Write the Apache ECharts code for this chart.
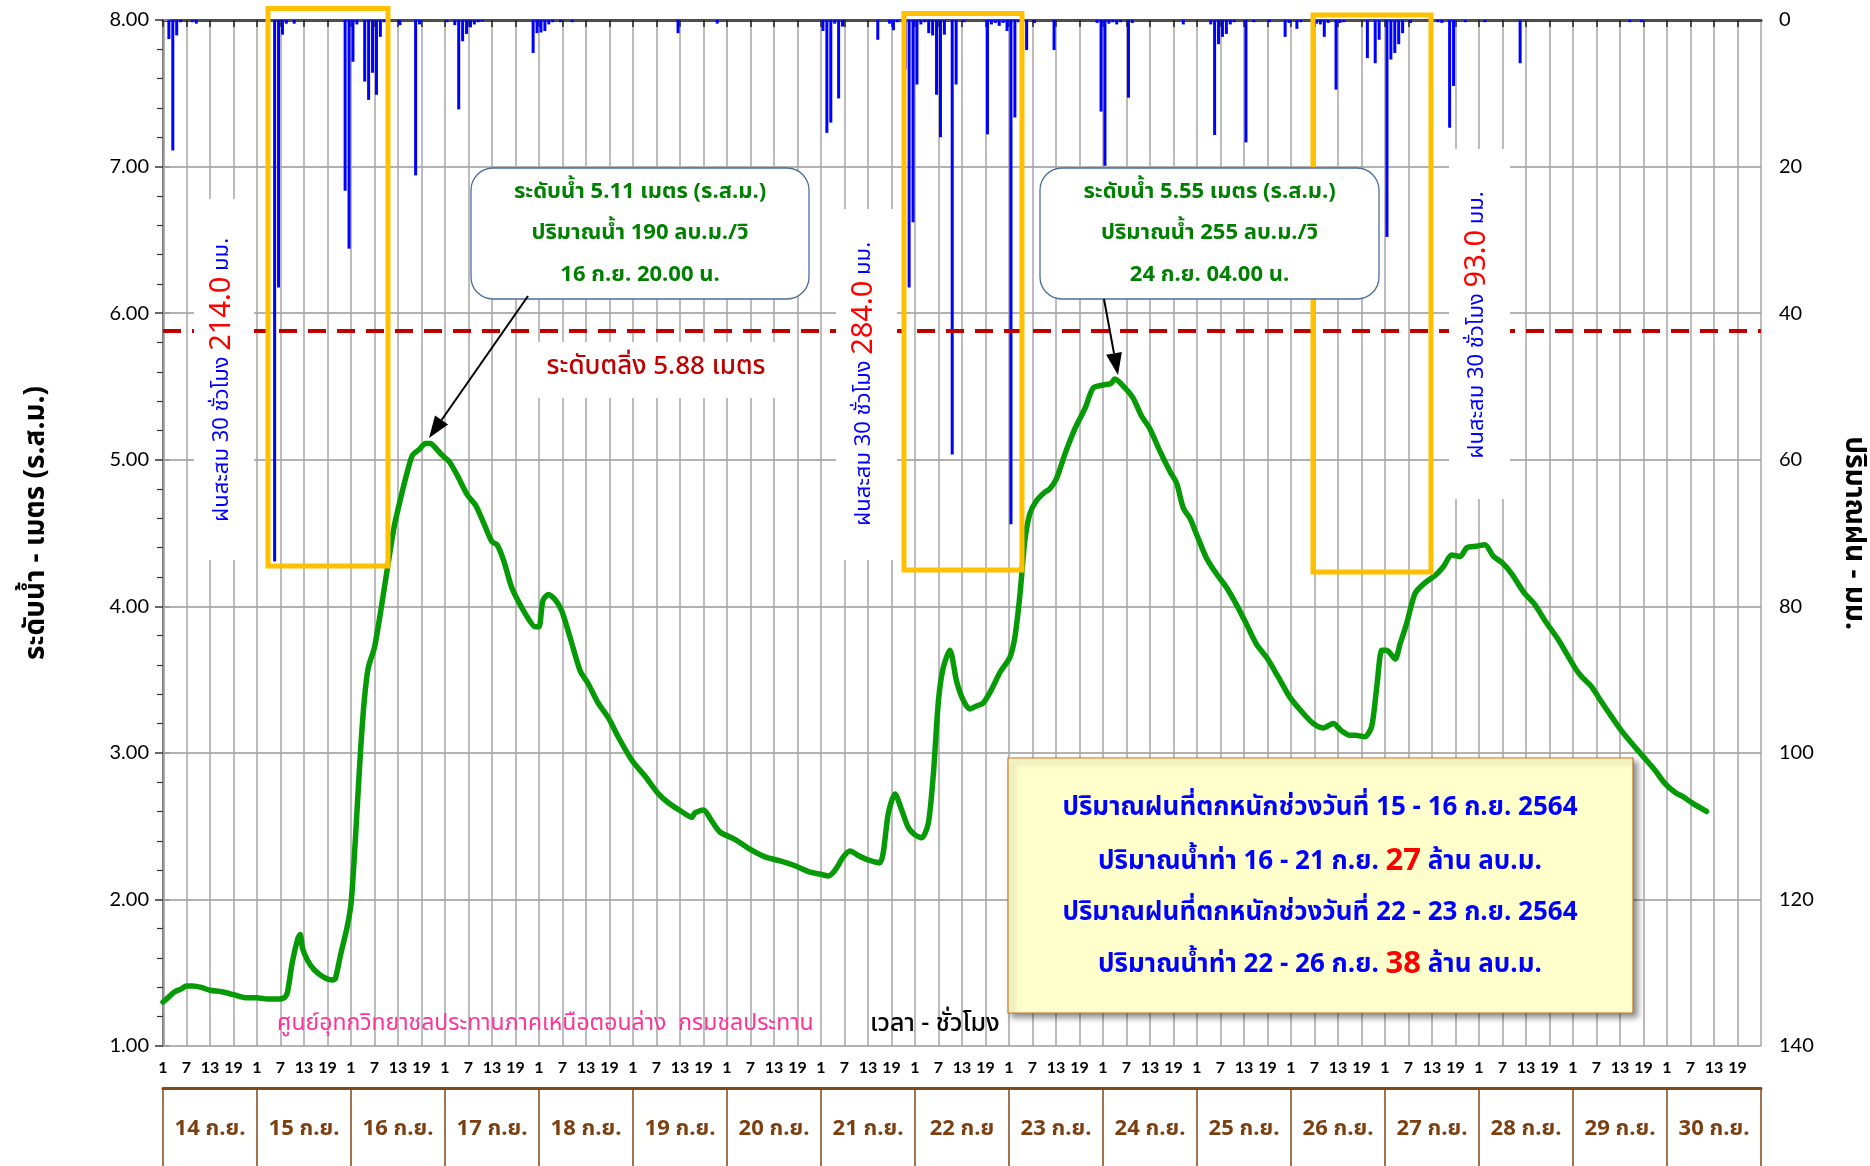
<!DOCTYPE html>
<html><head><meta charset="utf-8">
<script src="https://cdn.jsdelivr.net/npm/echarts/dist/echarts.min.js"></script>
<style>html,body{margin:0;padding:0;background:#fff}#c{width:1870px;height:1166px}</style>
</head><body><div id="c"></div>
<script>
// ---- data ----
const dayLabels = ['14 ก.ย.','15 ก.ย.','16 ก.ย.','17 ก.ย.','18 ก.ย.','19 ก.ย.','20 ก.ย.','21 ก.ย.','22 ก.ย','23 ก.ย.','24 ก.ย.','25 ก.ย.','26 ก.ย.','27 ก.ย.','28 ก.ย.','29 ก.ย.','30 ก.ย.'];
const hourTickLabels = ['1','7','13','19'];
const levelTicks = [1,2,3,4,5,6,7,8];
const rainTicks = [0,20,40,60,80,100,120,140];
const bankLevel = 5.88;

// water level (m, ร.ส.ม.) at hour index from 14 ก.ย. 01:00
const levelHours = [0,1.3,3,4.7,6,7.6,9.8,12,15,18,21,24,26.7,29,31,31.8,33,34.4,35,35.7,37,38.6,41,43.3,44,45.4,47,48,48.8,49.7,50.5,51.4,52.4,54,55.6,57.3,59,60.7,62.4,63.7,65.4,67,68.3,69.6,71.3,73,75,77.7,79.8,82,84,85.3,87,89,91.2,93.4,95,96,97,98.4,100,101.8,103.9,106.5,108.6,111.1,113.7,116.2,119.7,123.1,126.5,129,132.4,135,135.8,138,140,142.2,146,149.4,153.7,158,161.4,164.8,168.2,169.9,171.6,173.7,175.4,177.5,180,183,183.9,185.2,186.9,188.6,190.3,192,193.7,195.4,196.7,198,199.2,200.9,202.6,204.3,206,207.7,209.4,211.5,213.7,216.2,217.5,218.8,220,221.3,223,225.2,226.4,228.1,230.3,232.8,235.4,237.5,240,242,243,245.6,247.7,249.8,252,254.5,257.1,258.8,260.5,262.2,263.9,266.4,269,271.5,274.1,276.6,279.2,281.8,284.7,287.7,291.1,293.7,296.2,298.8,300.9,303,304.4,306.9,308.6,309.9,311.2,312.4,314.6,315.8,317.5,319.7,322.2,324.8,326.9,329,331.2,332.9,335.4,337.5,339.7,341.8,344.4,347.3,350.3,352.9,356.3,360.5,362.2,364.8,366.5,369,372.4,375.8,378.4,381,383.5,386.1,388.2,390.3,394.1];
const levelValues = [1.30,1.33,1.37,1.39,1.41,1.41,1.40,1.38,1.37,1.35,1.33,1.33,1.32,1.32,1.33,1.37,1.57,1.73,1.76,1.66,1.58,1.52,1.47,1.45,1.46,1.63,1.81,1.97,2.27,2.68,3.04,3.36,3.58,3.72,3.97,4.26,4.54,4.74,4.92,5.03,5.07,5.11,5.11,5.08,5.03,4.99,4.90,4.76,4.69,4.56,4.44,4.42,4.31,4.13,4.01,3.91,3.86,3.86,4.04,4.08,4.05,3.97,3.79,3.56,3.47,3.34,3.24,3.11,2.95,2.84,2.72,2.66,2.60,2.56,2.59,2.61,2.54,2.46,2.41,2.35,2.29,2.26,2.23,2.19,2.17,2.16,2.20,2.29,2.33,2.30,2.27,2.25,2.32,2.59,2.72,2.61,2.49,2.44,2.42,2.52,2.86,3.36,3.58,3.70,3.49,3.36,3.30,3.32,3.34,3.43,3.55,3.65,3.79,4.08,4.44,4.63,4.72,4.78,4.80,4.87,5.04,5.21,5.35,5.49,5.51,5.52,5.55,5.49,5.42,5.30,5.21,5.06,4.92,4.84,4.67,4.60,4.49,4.33,4.22,4.13,4.01,3.88,3.74,3.65,3.52,3.38,3.27,3.20,3.17,3.20,3.15,3.12,3.12,3.11,3.18,3.45,3.70,3.70,3.64,3.74,3.88,4.09,4.16,4.21,4.27,4.35,4.34,4.40,4.41,4.42,4.34,4.30,4.22,4.10,4.01,3.90,3.77,3.58,3.52,3.45,3.38,3.28,3.15,3.04,2.96,2.88,2.79,2.73,2.70,2.66,2.60];

// hourly rainfall (mm) at hour index
const rainHours = [1.5,2.5,3.5,4.5,7.5,8.5,28.5,29.5,30.5,31.5,33.5,46.5,47.5,48.5,49.5,51.5,52.5,53.5,54.5,55.5,56.5,60.5,64.5,65.5,72.5,74.5,75.5,76.5,77.5,78.5,79.5,80.5,81.5,94.5,95.5,96.5,97.5,98.5,99.5,101.5,104.5,131.5,141.5,168.5,169.5,170.5,171.5,172.5,173.5,182.5,185.5,186.5,187.5,189.5,190.5,191.5,192.5,193.5,194.5,195.5,196.5,197.5,198.5,199.5,201.5,202.5,204.5,210.5,211.5,212.5,213.5,214.5,215.5,216.5,217.5,218.5,220.5,222.5,227.5,238.5,239.5,240.5,241.5,242.5,243.5,244.5,246.5,247.5,260.5,267.5,268.5,269.5,270.5,271.5,272.5,273.5,276.5,278.5,282.5,286.5,287.5,289.5,290.5,293.5,294.5,295.5,296.5,297.5,299.5,300.5,301.5,307.5,309.5,310.5,312.5,313.5,314.5,315.5,316.5,318.5,325.5,326.5,328.5,329.5,332.5,337.5,346.5,374.5,377.5];
const rainValues = [2.6,17.8,2.1,0.3,0.3,0.5,73.9,36.5,2.0,0.5,0.5,23.3,31.2,5.7,0.6,8.4,10.9,7.2,10.2,2.3,0.3,0.7,21.2,0.6,0.3,0.7,12.2,2.9,1.9,1.0,0.6,0.3,0.2,4.5,1.8,1.7,1.5,0.6,0.3,0.3,0.3,1.8,0.5,1.5,15.4,14.0,0.5,10.7,0.9,2.7,0.5,1.4,0.3,6.7,36.5,27.6,8.8,0.6,0.3,1.8,2.1,10.2,16.0,2.0,59.3,8.8,0.3,15.6,0.6,0.4,0.8,0.4,1.5,68.8,13.3,0.3,4.1,0.4,4.1,0.4,12.5,19.9,0.5,0.3,0.6,0.3,10.6,0.4,0.6,0.6,15.7,3.3,2.3,1.9,0.6,0.3,16.7,0.3,0.3,2.3,0.4,1.2,0.3,18.7,0.5,0.6,2.3,0.4,9.5,0.4,0.3,5.2,5.9,2.7,29.6,5.4,4.5,3.3,1.8,0.4,0.3,0.4,14.7,9.0,0.3,0.3,5.9,0.3,0.3];

// ---- chart ----
const TH = "'Noto Sans Thai','Noto Sans Thai UI','Noto Sans',Tahoma,sans-serif";
const NUM = "Lato,'Noto Sans',sans-serif";
const chart = echarts.init(document.getElementById('c'), null, {renderer:'canvas'});

function arrow(x1,y1,x2,y2,z){
  const dx=x2-x1, dy=y2-y1, L=Math.hypot(dx,dy), ux=dx/L, uy=dy/L;
  const hl=22, hw=8, bx=x2-ux*hl, by=y2-uy*hl;
  return [
    {type:'line', z:z, shape:{x1:x1,y1:y1,x2:bx,y2:by}, style:{stroke:'#000',lineWidth:2}},
    {type:'polygon', z:z, shape:{points:[[x2,y2],[bx-uy*hw,by+ux*hw],[bx+uy*hw,by-ux*hw]]}, style:{fill:'#000'}}
  ];
}
function vtext(x,y,num){
  return {type:'text', x:x, y:y, rotation:Math.PI/2, z:11, style:{
    text:'{a|ฝนสะสม 30 ชั่วโมง }{b|'+num+'}{a| มม.}', align:'center', verticalAlign:'middle',
    rich:{a:{fill:'#0000ff',fontSize:22,fontFamily:TH}, b:{fill:'#ff0000',fontSize:29,fontFamily:TH}}}};
}
function callout(x,y,w,h,lines){
  const els=[{type:'rect', z:13, shape:{x:x,y:y,width:w,height:h,r:22}, style:{fill:'#fff',stroke:'#4a6f9a',lineWidth:1.3}}];
  const ys=[194,235,277];
  lines.forEach((t,i)=>els.push({type:'text', z:14, x:x+w/2, y:ys[i], style:{text:t, fill:'#008000', font:'bold 22px '+TH, align:'center', verticalAlign:'middle'}}));
  return els;
}
function yellow(x1,y1,x2,y2){
  return {type:'rect', z:12, shape:{x:x1,y:y1,width:x2-x1,height:y2-y1}, style:{fill:'none',stroke:'#ffc000',lineWidth:5}};
}
const noteRich = {
  b:{fill:'#0000ff',fontSize:26,fontWeight:'bold',fontFamily:TH},
  r:{fill:'#ff0000',fontSize:31,fontWeight:'bold',fontFamily:TH}
};
const noteLines = [
  '{b|ปริมาณฝนที่ตกหนักช่วงวันที่ 15 - 16 ก.ย. 2564}',
  '{b|ปริมาณน้ำท่า 16 - 21 ก.ย. }{r|27}{b| ล้าน ลบ.ม.}',
  '{b|ปริมาณฝนที่ตกหนักช่วงวันที่ 22 - 23 ก.ย. 2564}',
  '{b|ปริมาณน้ำท่า 22 - 26 ก.ย. }{r|38}{b| ล้าน ลบ.ม.}'
];
const noteYs=[810,864,915,967];

const graphics = [
  // white label backgrounds
  {type:'rect', z:10, shape:{x:194,y:199,width:60,height:361}, style:{fill:'#fff'}},
  {type:'rect', z:10, shape:{x:836,y:209,width:61,height:351}, style:{fill:'#fff'}},
  {type:'rect', z:10, shape:{x:1449,y:149,width:61,height:350}, style:{fill:'#fff'}},
  {type:'rect', z:10, shape:{x:530,y:342,width:245,height:56}, style:{fill:'#fff'}},
  vtext(224,380,'214.0'), vtext(866,384,'284.0'), vtext(1479,325,'93.0'),
  {type:'text', z:11, x:656, y:369, style:{text:'ระดับตลิ่ง 5.88 เมตร', fill:'#c00000', font:'500 26px '+TH, align:'center', verticalAlign:'middle'}},
  yellow(268,8.5,388,566), yellow(904,13.5,1022,570), yellow(1313,15,1431,572),
  ...callout(471,168,338,131,['ระดับน้ำ 5.11 เมตร (ร.ส.ม.)','ปริมาณน้ำ 190 ลบ.ม./วิ','16 ก.ย. 20.00 น.']),
  ...callout(1040,168,339,131,['ระดับน้ำ 5.55 เมตร (ร.ส.ม.)','ปริมาณน้ำ 255 ลบ.ม./วิ','24 ก.ย. 04.00 น.']),
  ...arrow(528,296,429,438,15), ...arrow(1104,299,1118,375,15),
  {type:'rect', z:13, shape:{x:1008,y:758,width:625,height:255}, style:{fill:'#ffffcc',stroke:'#c0792e',lineWidth:1.2,shadowBlur:6,shadowOffsetX:4,shadowOffsetY:4,shadowColor:'rgba(0,0,0,0.45)'}},
  ...noteLines.map((t,i)=>({type:'text', z:14, x:1320, y:noteYs[i], style:{text:t, rich:noteRich, align:'center', verticalAlign:'middle'}})),
  {type:'text', z:11, x:277, y:1025, style:{text:'ศูนย์อุทกวิทยาชลประทานภาคเหนือตอนล่าง  กรมชลประทาน', fill:'#ff3399', font:'23px '+TH, align:'left', verticalAlign:'middle'}},
  {type:'text', z:11, x:870, y:1026, style:{text:'เวลา - ชั่วโมง', fill:'#000', font:'500 25px '+TH, align:'left', verticalAlign:'middle'}},
  {type:'text', z:11, x:38, y:523, rotation:Math.PI/2, style:{text:'ระดับน้ำ - เมตร (ร.ส.ม.)', fill:'#000', font:'bold 28px '+TH, align:'center', verticalAlign:'middle'}},
  {type:'text', z:11, x:1852, y:533, rotation:-Math.PI/2, style:{text:'ปริมาณฝน - มม.', fill:'#000', font:'bold 28px '+TH, align:'center', verticalAlign:'middle'}}
];

chart.setOption({
  animation:false,
  backgroundColor:'#fff',
  grid:{left:163, right:109, top:20, bottom:120, containLabel:false},
  xAxis:[
    {type:'value', min:0, max:408, interval:6, position:'bottom',
     axisLine:{show:true, lineStyle:{color:'#222', width:3}},
     axisTick:{show:true, length:7, lineStyle:{color:'#222', width:1.5}},
     axisLabel:{margin:14, showMaxLabel:false, color:'#000', fontWeight:'bold', fontSize:16, fontFamily:NUM,
       formatter:v=>hourTickLabels[Math.round(v/6)%4]},
     splitLine:{show:true, lineStyle:{color:'#a6a6a6', width:1.5}}},
    {type:'category', data:dayLabels, position:'bottom', offset:42, boundaryGap:true,
     axisLine:{show:true, lineStyle:{color:'#7f4a1e', width:3}},
     axisTick:{show:true, length:80, interval:0, lineStyle:{color:'#7f4a1e', width:1.5}},
     axisLabel:{margin:32, color:'#7b3f10', fontWeight:'bold', fontSize:22, fontFamily:TH},
     splitLine:{show:false}},
    {type:'value', min:0, max:408, position:'top',
     axisLine:{show:true, lineStyle:{color:'#555', width:2.5}},
     axisTick:{show:false}, axisLabel:{show:false}, splitLine:{show:false}}
  ],
  yAxis:[
    {type:'value', min:levelTicks[0], max:levelTicks[levelTicks.length-1], interval:1, position:'left',
     axisLine:{show:true, lineStyle:{color:'#333', width:2}},
     axisTick:{show:true, length:8, lineStyle:{color:'#333', width:1.5}},
     minorTick:{show:true, splitNumber:5, length:6, lineStyle:{color:'#333', width:1.2}},
     axisLabel:{margin:14, color:'#000', fontSize:20, fontFamily:NUM, formatter:v=>v.toFixed(2)},
     splitLine:{show:true, lineStyle:{color:'#999', width:1.5}}},
    {type:'value', min:rainTicks[0], max:rainTicks[rainTicks.length-1], interval:20, position:'right', inverse:true,
     axisLine:{show:true, lineStyle:{color:'#999', width:2.5}},
     axisTick:{show:true, length:7, lineStyle:{color:'#999', width:1.5}},
     axisLabel:{margin:18, color:'#000', fontSize:20, fontFamily:NUM},
     splitLine:{show:false}}
  ],
  series:[
    {type:'bar', xAxisIndex:0, yAxisIndex:1, barWidth:3, z:2,
     itemStyle:{color:'#0000ff'},
     data:rainHours.map((h,i)=>[h,rainValues[i]])},
    {type:'line', xAxisIndex:0, yAxisIndex:0, z:3, symbol:'none', smooth:0.25,
     lineStyle:{color:'#079a07', width:5.5, join:'round', cap:'round'},
     data:levelHours.map((h,i)=>[h,levelValues[i]]),
     markLine:{silent:true, symbol:'none', label:{show:false},
       lineStyle:{color:'#c00000', type:[18,11], width:4},
       data:[{yAxis:bankLevel}]}}
  ],
  graphic:graphics
});
</script></body></html>
